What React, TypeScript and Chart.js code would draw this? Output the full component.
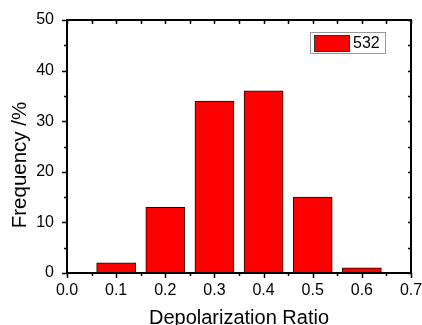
import React, { useEffect, useRef } from "react";
import { Chart, registerables } from "chart.js";

Chart.register(...registerables);

const ratios = [0.1, 0.2, 0.3, 0.4, 0.5, 0.6];
const frequencies = [2, 13, 34, 36, 15, 1];
const seriesLabel = "532";
const xTitle = "Depolarization Ratio";
const yTitle = "Frequency /%";

const FONT = "Arial, 'Liberation Sans', sans-serif";

const framePlugin = {
  id: "frameTicks",
  afterDraw(chart: any) {
    const { ctx, chartArea: a, scales } = chart;
    const xs = scales.x;
    const ys = scales.y;
    ctx.save();
    ctx.strokeStyle = "#000";
    ctx.lineWidth = 2;
    ctx.strokeRect(a.left, a.top, a.right - a.left, a.bottom - a.top);

    const majX = xs.ticks.map((t: any) => t.value);
    const majY = ys.ticks.map((t: any) => t.value);
    const mids = (arr: number[]) => arr.slice(1).map((v, i) => (v + arr[i]) / 2);
    ctx.lineWidth = 1.5;
    ctx.beginPath();
    const tickX = (vals: number[], lenOut: number, lenTopIn: number) => {
      vals.forEach((v) => {
        const px = Math.round(xs.getPixelForValue(v)) + 0.5;
        ctx.moveTo(px, a.bottom);
        ctx.lineTo(px, a.bottom + lenOut);
        ctx.moveTo(px, a.top);
        ctx.lineTo(px, a.top + lenTopIn);
      });
    };
    const tickY = (vals: number[], lenOut: number, lenRightIn: number) => {
      vals.forEach((v) => {
        const py = Math.round(ys.getPixelForValue(v)) + 0.5;
        ctx.moveTo(a.left, py);
        ctx.lineTo(a.left - lenOut, py);
        ctx.moveTo(a.right, py);
        ctx.lineTo(a.right - lenRightIn, py);
      });
    };
    tickX(majX, 5, 4);
    tickX(mids(majX), 3, 4);
    tickY(majY, 5, 3);
    tickY(mids(majY), 3, 3);
    ctx.stroke();

    // y axis title
    ctx.fillStyle = "#000";
    ctx.font = `20.5px ${FONT}`;
    ctx.textAlign = "center";
    ctx.textBaseline = "middle";
    ctx.translate(20, 165);
    ctx.rotate(-Math.PI / 2);
    ctx.fillText(yTitle, 0, 0);
    ctx.setTransform(1, 0, 0, 1, 0, 0);

    // legend box
    const ds = chart.data.datasets[0];
    const bx = a.right - 101;
    const by = a.top + 12;
    const bw = 75;
    const bh = 21;
    ctx.fillStyle = "#fff";
    ctx.fillRect(bx, by, bw, bh);
    ctx.strokeStyle = "#999";
    ctx.lineWidth = 1;
    ctx.strokeRect(bx + 0.5, by + 0.5, bw, bh);
    ctx.fillStyle = ds.backgroundColor;
    ctx.fillRect(bx + 4, by + 3, 35, 16);
    ctx.strokeStyle = "#333";
    ctx.strokeRect(bx + 4.5, by + 3.5, 35, 16);
    ctx.fillStyle = "#000";
    ctx.font = `16px ${FONT}`;
    ctx.textAlign = "left";
    ctx.textBaseline = "middle";
    ctx.fillText(ds.label, bx + 43, by + bh / 2 + 1);
    ctx.restore();
  },
};

export default function App() {
  const ref = useRef<HTMLCanvasElement | null>(null);
  useEffect(() => {
    if (!ref.current) return;
    const chart = new Chart(ref.current, {
      type: "bar",
      data: {
        datasets: [
          {
            label: seriesLabel,
            data: ratios.map((r, i) => ({ x: r, y: frequencies[i] })),
            backgroundColor: "#ff0000",
            borderColor: "#2a0000",
            borderWidth: 1,
            barThickness: 39,
          },
        ],
      },
      options: {
        responsive: false,
        animation: false,
        layout: { padding: { top: 20, right: 11, left: 0, bottom: 0 } },
        plugins: { legend: { display: false }, tooltip: { enabled: false } },
        scales: {
          x: {
            type: "linear",
            min: 0,
            max: 0.7,
            offset: false,
            grid: { display: false },
            border: { display: false },
            ticks: {
              stepSize: 0.1,
              padding: 0,
              color: "#000",
              font: { family: FONT, size: 16 },
              callback: (v: any) => Number(v).toFixed(1),
              maxRotation: 0,
            },
            title: {
              display: true,
              text: xTitle,
              color: "#000",
              font: { family: FONT, size: 20 },
              padding: { top: 0, bottom: -5 },
            },
            afterFit: (s: any) => {
              s.height = 52;
              s.paddingLeft = 0;
              s.paddingRight = 0;
            },
          },
          y: {
            min: 0,
            max: 50,
            grid: { display: false },
            border: { display: false },
            ticks: {
              stepSize: 10,
              padding: 5,
              color: "#000",
              font: { family: FONT, size: 16 },
            },
            afterFit: (s: any) => {
              s.width = 67;
              s.paddingTop = 0;
              s.paddingBottom = 0;
            },
          },
        },
      },
      plugins: [framePlugin],
    });
    return () => chart.destroy();
  }, []);
  return (
    <div style={{ position: "absolute", left: 0, top: 0, width: 422, height: 325, background: "#fff" }}>
      <canvas ref={ref} width={422} height={325} />
    </div>
  );
}
